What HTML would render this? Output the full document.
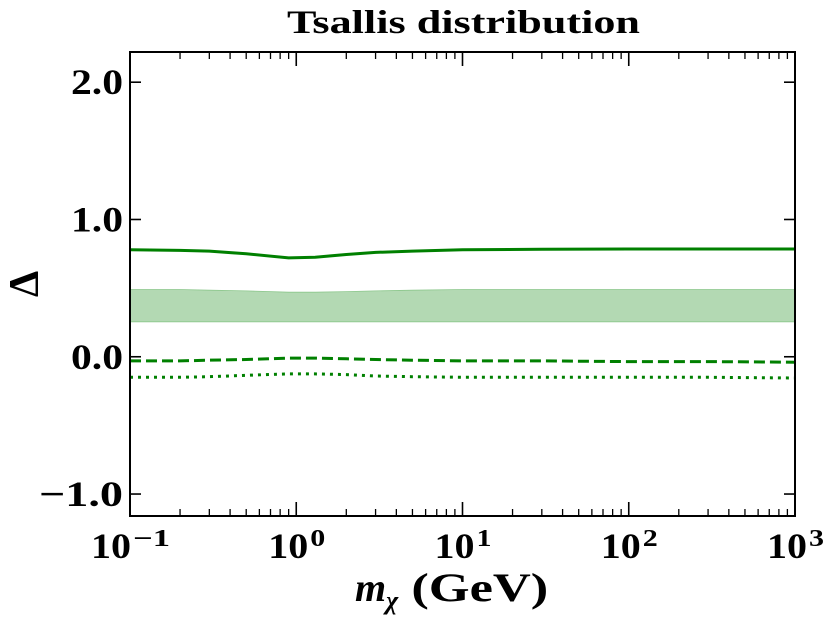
<!DOCTYPE html>
<html><head><meta charset="utf-8"><style>
body{margin:0;background:#fff;}
svg text{font-family:"Liberation Serif",serif;font-weight:bold;fill:#000;}
</style></head><body>
<svg id="chart" width="830" height="621" viewBox="0 0 830 621"></svg>
<script>
const xs = [0.1, 0.2, 0.3, 0.5, 0.9, 1.3, 2, 3, 5, 10, 30, 100, 300, 1000];
const solid = [0.78, 0.775, 0.77, 0.75, 0.72, 0.725, 0.745, 0.76, 0.77, 0.78, 0.783, 0.785, 0.785, 0.785];
const bandTop = [0.49, 0.49, 0.485, 0.48, 0.47, 0.47, 0.475, 0.48, 0.485, 0.49, 0.49, 0.49, 0.49, 0.49];
const bandBot = [0.255, 0.255, 0.255, 0.255, 0.255, 0.255, 0.255, 0.255, 0.255, 0.255, 0.255, 0.255, 0.255, 0.255];
const dashed = [-0.03, -0.03, -0.025, -0.02, -0.01, -0.01, -0.015, -0.02, -0.025, -0.03, -0.03, -0.035, -0.035, -0.04];
const dotted = [-0.15, -0.15, -0.145, -0.135, -0.125, -0.125, -0.13, -0.14, -0.145, -0.15, -0.15, -0.15, -0.15, -0.155];
const yTicks = [2.0, 1.0, 0.0, -1.0];
const yTickLabels = ["2.0", "1.0", "0.0", "\u22121.0"];
const xDecades = [-1, 0, 1, 2, 3];

const L=130,R=795,T=52,B=516;
const xmin=-1,xmax=3,ymin=-1.16,ymax=2.22;
const X=v=>L+(Math.log10(v)-xmin)/(xmax-xmin)*(R-L);
const Y=v=>B-(v-ymin)/(ymax-ymin)*(B-T);
const svg=document.getElementById('chart');
const NS='http://www.w3.org/2000/svg';
function mk(tag,attrs,parent){const e=document.createElementNS(NS,tag);for(const k in attrs)e.setAttribute(k,attrs[k]);(parent||svg).appendChild(e);return e;}
const pts=arr=>arr.map((v,i)=>X(xs[i]).toFixed(1)+','+Y(v).toFixed(1));

let band=mk('polygon',{points:pts(bandTop).concat(pts(bandBot).reverse()).join(' '),fill:'#b3d9b3',stroke:'#8cc78c','stroke-width':0.8});


let s=mk('polyline',{points:pts(solid).join(' '),fill:'none',stroke:'#008000','stroke-width':3});


let d=mk('polyline',{points:pts(dashed).join(' '),fill:'none',stroke:'#008000','stroke-width':3,'stroke-dasharray':'11,5'});


let o=mk('polyline',{points:pts(dotted).join(' '),fill:'none',stroke:'#008000','stroke-width':3,'stroke-dasharray':'3,5'});



let frame=mk('rect',{x:L,y:T,width:R-L,height:B-T,fill:'none',stroke:'#000','stroke-width':2});



yTicks.forEach((v,i)=>{
  const y=Y(v);
  mk('line',{x1:L,x2:L+11,y1:y,y2:y,stroke:'#000','stroke-width':1.6});
  mk('line',{x1:R,x2:R-11,y1:y,y2:y,stroke:'#000','stroke-width':1.6});
  const lbl=yTickLabels[i];
  const t=mk('text',{x:L-7,y:y+12,'text-anchor':'end','font-size':36,textLength:lbl.length>3?84:52,lengthAdjust:'spacingAndGlyphs'});
  t.textContent=lbl;
  
  
});
xDecades.forEach(p=>{
  const x=X(Math.pow(10,p));
  mk('line',{x1:x,x2:x,y1:B,y2:B-14,stroke:'#000','stroke-width':1.6});
  mk('line',{x1:x,x2:x,y1:T,y2:T+14,stroke:'#000','stroke-width':1.6});
  if(p<3)for(let k=2;k<10;k++){const xm=X(k*Math.pow(10,p));
    mk('line',{x1:xm,x2:xm,y1:B,y2:B-7,stroke:'#000','stroke-width':1.3});
    mk('line',{x1:xm,x2:xm,y1:T,y2:T+7,stroke:'#000','stroke-width':1.3});}
  const ew=p<0?37:15;
  const x0=x-(41+ew)/2;
  const t=mk('text',{x:x0,y:558,'font-size':36,textLength:40,lengthAdjust:'spacingAndGlyphs'});
  t.textContent='10';
  
  
  const e=mk('text',{x:x0+42,y:546,'font-size':24,textLength:ew,lengthAdjust:'spacingAndGlyphs'});
  e.textContent=p<0?'\u2212'+(-p):String(p);
});
</script>
<svg style="position:absolute;left:0;top:0" width="830" height="621">
<text x="287" y="33" font-size="33" textLength="353" lengthAdjust="spacingAndGlyphs">Tsallis distribution</text>
<text x="355" y="601" font-size="40"><tspan font-style="italic">m</tspan><tspan font-size="26" font-style="italic" dy="8">χ</tspan><tspan dy="-8" textLength="150" lengthAdjust="spacingAndGlyphs"> (GeV)</tspan></text>
<text x="38" y="284" text-anchor="middle" font-size="42" transform="rotate(-90 38 284)">Δ</text>
</svg>
</body></html>
